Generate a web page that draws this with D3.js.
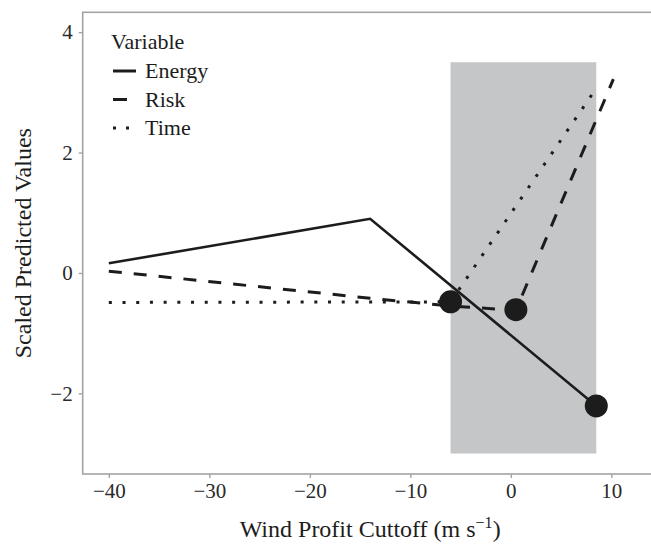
<!DOCTYPE html>
<html>
<head>
<meta charset="utf-8">
<script src="https://cdn.jsdelivr.net/npm/d3@7"></script>
<style>
  body { margin: 0; background: #fff; }
  svg text { font-family: "Liberation Serif", "Times New Roman", "DejaVu Serif", serif !important; }
</style>
</head>
<body>
<div id="chart"></div>
<script>

// values
let xTicks = [-40, -30, -20, -10, 0, 10];
let yTicks = [-2, 0, 2, 4];

let energyX = [-40, -14, 8.5];
let energyY = [0.16, 0.90, -2.21];

let riskX = [-40, -14, -6, 0.5, 10.2];
let riskY = [0.03, -0.42, -0.55, -0.62, 3.22];

let timeX = [-40, -6, 8.3];
let timeY = [-0.49, -0.48, 3.02];

// marked optimum of each variable
let optX = [-6, 0.5, 8.5];
let optY = [-0.48, -0.61, -2.21];

// shaded window
let shadeX = [-6, 8.5];
let shadeY = [-3, 3.5];

let svgWidth = 651;
let svgHeight = 546;
let serif = "'Liberation Serif', 'Times New Roman', serif";

let svg = d3.select("#chart").append("svg")
  .attr("width", svgWidth)
  .attr("height", svgHeight)
  .attr("font-family", serif);

// the panel runs a bit past the right edge of the picture
let x = d3.scaleLinear().domain([-42.6, 14.6]).range([82.7, 657.6]);
let y = d3.scaleLinear().domain([-3.34, 4.33]).range([474, 12.3]);

let ink = "#1c1c1c";
let axisGray = "#a3a3a3";

// shaded band
svg.append("rect")
  .attr("x", x(shadeX[0]))
  .attr("y", y(shadeY[1]))
  .attr("width", x(shadeX[1]) - x(shadeX[0]))
  .attr("height", y(shadeY[0]) - y(shadeY[1]))
  .attr("fill", "#c5c6c8");

// panel border
svg.append("rect")
  .attr("x", x.range()[0])
  .attr("y", y.range()[1])
  .attr("width", x.range()[1] - x.range()[0])
  .attr("height", y.range()[0] - y.range()[1])
  .attr("fill", "none")
  .attr("stroke", axisGray)
  .attr("stroke-width", 1.6);

let minusFmt = d => d < 0 ? "\u2212" + Math.abs(d) : d;

// axes
let xAxis = svg.append("g")
  .attr("transform", "translate(0," + y.range()[0] + ")")
  .call(d3.axisBottom(x).tickValues(xTicks).tickSize(4).tickPadding(5).tickFormat(minusFmt));

let yAxis = svg.append("g")
  .attr("transform", "translate(" + x.range()[0] + ",0)")
  .call(d3.axisLeft(y).tickValues(yTicks).tickSize(4).tickPadding(6).tickFormat(minusFmt));

[xAxis, yAxis].forEach(g => {
  g.attr("font-family", serif).attr("font-size", 21);
  g.select(".domain").remove();
  g.selectAll(".tick line").attr("stroke", axisGray).attr("stroke-width", 1.4);
  g.selectAll(".tick text").attr("fill", "#2a2a2a");
});

// lines
let line = d3.line().x(d => x(d[0])).y(d => y(d[1]));

let series = [
  { name: "Energy", xs: energyX, ys: energyY, dash: null },
  { name: "Risk", xs: riskX, ys: riskY, dash: "13,12" },
  { name: "Time", xs: timeX, ys: timeY, dash: "3,10.7" }
];

svg.selectAll(".series")
  .data(series)
  .enter().append("path")
  .attr("class", "series")
  .attr("d", d => line(d.xs.map((v, i) => [v, d.ys[i]])))
  .attr("fill", "none")
  .attr("stroke", ink)
  .attr("stroke-width", d => d.dash ? 3 : 2.6)
  .attr("stroke-dasharray", d => d.dash);

// optimum points
svg.selectAll(".opt")
  .data(optX.map((v, i) => [v, optY[i]]))
  .enter().append("circle")
  .attr("class", "opt")
  .attr("cx", d => x(d[0]))
  .attr("cy", d => y(d[1]))
  .attr("r", 11.5)
  .attr("fill", ink);

// axis titles
let xTitle = svg.append("text")
  .attr("x", (x.range()[0] + x.range()[1]) / 2)
  .attr("y", 537)
  .attr("text-anchor", "middle")
  .attr("fill", ink)
  .attr("font-size", 24);
xTitle.append("tspan").text("Wind Profit Cuttoff (m s");
xTitle.append("tspan").text("\u22121").attr("dy", -9).attr("font-size", 16);
xTitle.append("tspan").text(")").attr("dy", 9);

svg.append("text")
  .attr("transform", "translate(31," + (y.range()[0] + y.range()[1]) / 2 + ") rotate(-90)")
  .attr("text-anchor", "middle")
  .attr("fill", ink)
  .attr("font-size", 24)
  .text("Scaled Predicted Values");

// legend
let legend = svg.append("g").attr("transform", "translate(111,49)");

legend.append("text")
  .attr("x", 0)
  .attr("y", 0)
  .attr("fill", ink)
  .attr("font-size", 22)
  .text("Variable");

let keys = legend.selectAll(".key")
  .data(series)
  .enter().append("g")
  .attr("class", "key")
  .attr("transform", (d, i) => "translate(0," + (29 + i * 28.5) + ")");

keys.append("line")
  .attr("x1", 2)
  .attr("x2", d => d.name === "Risk" ? 16 : 25)
  .attr("y1", -7)
  .attr("y2", -7)
  .attr("stroke", ink)
  .attr("stroke-width", 3)
  .attr("stroke-dasharray", d => d.name === "Time" ? "3,10" : null);

keys.append("text")
  .attr("x", 34)
  .attr("y", 0)
  .attr("fill", ink)
  .attr("font-size", 22)
  .text(d => d.name);

</script>
</body>
</html>
